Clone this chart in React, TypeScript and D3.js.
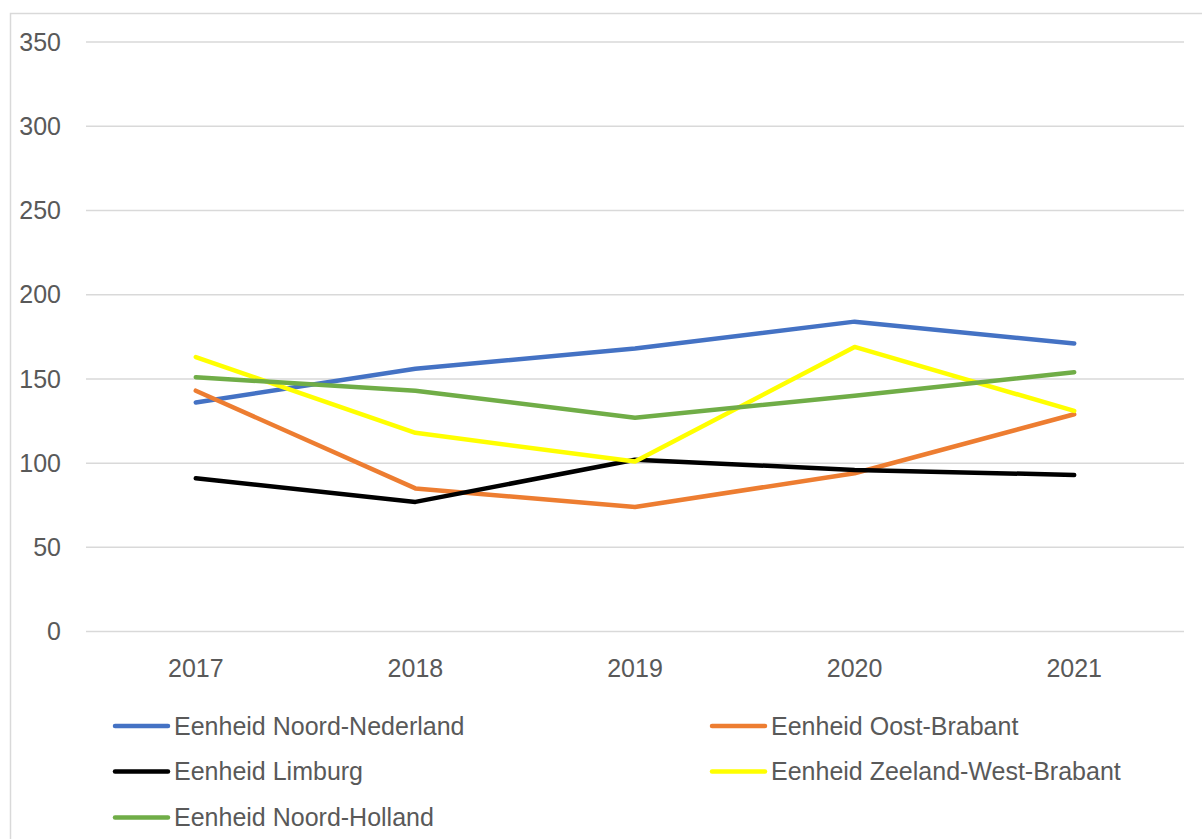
import React from 'react';
import { scaleBand, scaleLinear, line } from 'd3';

const years = ['2017', '2018', '2019', '2020', '2021'];
const yTicks = [0, 50, 100, 150, 200, 250, 300, 350];

const noordNederland = [136, 156, 168, 184, 171];
const oostBrabant = [143, 85, 74, 94, 129];
const limburg = [91, 77, 102, 96, 93];
const zeelandWestBrabant = [163, 118, 101, 169, 131];
const noordHolland = [151, 143, 127, 140, 154];

const series = [
  { name: 'Eenheid Noord-Nederland', color: '#4472C4', values: noordNederland },
  { name: 'Eenheid Oost-Brabant', color: '#ED7D31', values: oostBrabant },
  { name: 'Eenheid Limburg', color: '#000000', values: limburg },
  { name: 'Eenheid Zeeland-West-Brabant', color: '#FFFF00', values: zeelandWestBrabant },
  { name: 'Eenheid Noord-Holland', color: '#70AD47', values: noordHolland }
];

const width = 1202;
const height = 839;
const font = '"Liberation Sans", Arial, sans-serif';
const textColor = '#595959';

const App = () => {
  const x = scaleBand<string>().domain(years).range([86, 1184]);
  const y = scaleLinear().domain([0, 350]).range([631.6, 42]);

  const path = line<number>()
    .x((_, i) => (x(years[i]) as number) + x.bandwidth() / 2)
    .y(d => y(d));

  // legend: two columns, filled row by row
  const legendCols = [115, 712];
  const legendRows = [726, 771.5, 817.5];

  return (
    <svg
      width={width}
      height={height}
      style={{ position: 'absolute', left: 0, top: 0, background: '#fff' }}
    >
      <rect x={10.5} y={13.5} width={1300} height={900} fill="#fff" stroke="#d9d9d9" strokeWidth={1.5} />

      {yTicks.map(t => (
        <g key={t}>
          <line x1={86} x2={1184} y1={y(t)} y2={y(t)} stroke="#d9d9d9" strokeWidth={1.5} />
          <text
            x={61}
            y={y(t)}
            dy="0.35em"
            textAnchor="end"
            fontFamily={font}
            fontSize={25}
            fill={textColor}
          >
            {t}
          </text>
        </g>
      ))}

      {years.map(yr => (
        <text
          key={yr}
          x={(x(yr) as number) + x.bandwidth() / 2}
          y={677}
          textAnchor="middle"
          fontFamily={font}
          fontSize={25}
          fill={textColor}
        >
          {yr}
        </text>
      ))}

      {series.map(s => (
        <path
          key={s.name}
          d={path(s.values) || ''}
          fill="none"
          stroke={s.color}
          strokeWidth={4.5}
          strokeLinecap="round"
          strokeLinejoin="round"
        />
      ))}

      {series.map((s, i) => {
        const lx = legendCols[i % 2];
        const ly = legendRows[Math.floor(i / 2)];
        return (
          <g key={s.name}>
            <line x1={lx} x2={lx + 53} y1={ly} y2={ly} stroke={s.color} strokeWidth={4.5} strokeLinecap="round" />
            <text x={lx + 59} y={ly} dy="0.35em" fontFamily={font} fontSize={25} fill={textColor}>
              {s.name}
            </text>
          </g>
        );
      })}
    </svg>
  );
};

export default App;
